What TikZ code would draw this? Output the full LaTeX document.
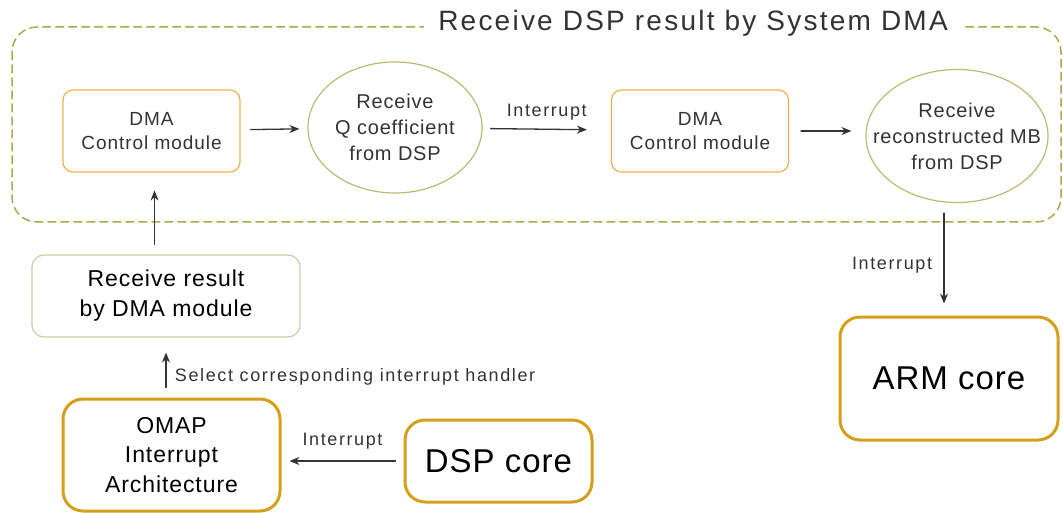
\documentclass[tikz,border=0pt]{standalone}
\usepackage{fontspec}
\setmainfont{Liberation Sans}
\usetikzlibrary{shapes.geometric,arrows.meta}
\definecolor{boxorange}{HTML}{E8B54C}
\definecolor{coregold}{HTML}{D4A01A}
\definecolor{ovalolive}{HTML}{BDB873}
\definecolor{softkhaki}{HTML}{CFCBA0}
\definecolor{dasholive}{HTML}{ABA850}
\definecolor{txtgray}{HTML}{333333}
\newcommand{\trackfont}[2]{\fontsize{#1}{1.3\dimexpr#1pt\relax}\selectfont\addfontfeatures{LetterSpace=#2}}
\tikzset{
  thinbox/.style={draw=boxorange,line width=1.2pt,rounded corners=10pt,minimum width=177pt,minimum height=82pt,align=center,text=txtgray,font=\trackfont{19}{5}},
  oval/.style={draw=ovalolive,line width=1.2pt,ellipse,inner ysep=0pt,inner xsep=-20pt,align=center,text=txtgray,font=\trackfont{20}{4}},
  softbox/.style={draw=softkhaki,line width=1.2pt,rounded corners=12pt,align=center,font=\trackfont{23}{4}},
  corebox/.style={draw=coregold,line width=3pt,rounded corners=20pt,align=center},
  link/.style={->,line width=1.3pt,draw=txtgray},
  lbl/.style={font=\trackfont{18}{9},text=txtgray}
}
\begin{document}
\begin{tikzpicture}[x=1pt,y=-1pt,line join=round,line cap=round,>={Stealth[length=10pt,width=8pt]}]
  \useasboundingbox (0,0) rectangle (1063,513);
  % system DMA frame
  \draw[dasholive,line width=1.5pt,dash pattern=on 8pt off 5pt,rounded corners=25pt] (12,27) rectangle (1061,222);
  \node[fill=white,font=\trackfont{28}{8},text=txtgray,inner xsep=14pt] (title) at (693,23) {Receive DSP result by System DMA};
  \node[thinbox] (dmaA) at (151.5,131) {DMA\\Control module};
  \node[oval,minimum width=174pt,minimum height=131pt] (qcoef) at (395,127.5) {Receive\\Q coefficient\\from DSP};
  \node[thinbox] (dmaB) at (700,131) {DMA\\Control module};
  \node[oval,minimum width=182pt,minimum height=133pt] (recmb) at (957,136) {Receive\\reconstructed MB\\from DSP};
  % lower part
  \node[softbox,minimum width=268pt,minimum height=82pt] (result) at (166,296) {Receive result\\by DMA module};
  \node[corebox,minimum width=217pt,minimum height=112pt,font=\trackfont{23}{4}] (omap) at (171.5,455) {OMAP\\Interrupt\\Architecture};
  \node[corebox,minimum width=187pt,minimum height=82pt,font=\trackfont{33}{3}] (dsp) at (498.5,461) {DSP core};
  \node[corebox,minimum width=218pt,minimum height=123pt,font=\trackfont{33}{3}] (arm) at (949,378.5) {ARM core};
  % connectors
  \draw[link,shorten <=10pt,shorten >=8pt] (dmaA) -- (qcoef);
  \draw[link,shorten <=8pt,shorten >=24pt] (qcoef) -- node[lbl,above=5pt]{Interrupt} (dmaB);
  \draw[link,shorten <=12pt,shorten >=14pt] (dmaB.east) -- (dmaB.east -| recmb.west);
  \draw[link,shorten <=10pt,shorten >=12pt] ([xshift=-13pt]recmb.south) -- node[lbl,left=8pt,pos=0.55]{Interrupt} ([xshift=-13pt]recmb.south |- arm.north);
  \draw[link,shorten <=10pt,shorten >=18pt] ([xshift=3pt]result.north -| dmaA.south) -- ([xshift=3pt]dmaA.south);
  \draw[link,shorten <=10pt,shorten >=15pt] (omap.north -| result.south) -- node[lbl,right=5pt,pos=0.35]{Select corresponding interrupt handler} (result.south);
  \draw[link,shorten <=8pt,shorten >=8pt] (dsp.west) -- node[lbl,above=8pt]{Interrupt} (dsp.west -| omap.east);
\end{tikzpicture}
\end{document}
